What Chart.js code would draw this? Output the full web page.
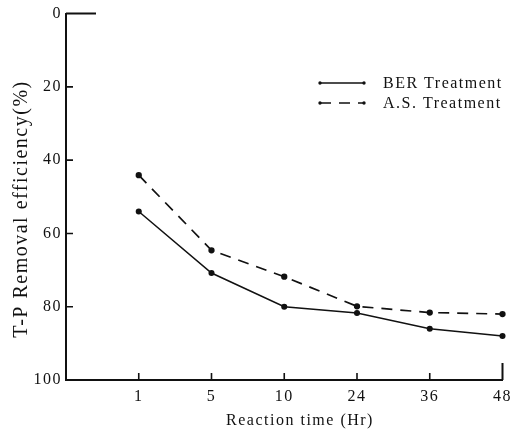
<!DOCTYPE html>
<html>
<head>
<meta charset="utf-8">
<script src="https://cdn.jsdelivr.net/npm/chart.js@4"></script>
<style>
  html, body { margin: 0; padding: 0; background: #fff; }
  #wrap { width: 519px; height: 430px; }
</style>
</head>
<body>
<div id="wrap"><canvas id="tpChart" width="519" height="430"></canvas></div>
<script>
// Reaction times (Hr); the leading blank slot sits on the y axis
const hours = ['1', '5', '10', '24', '36', '48'];
const berRemoval = [54, 70.8, 80, 81.7, 86, 88];
const asRemoval = [44.1, 64.6, 71.8, 79.9, 81.6, 82];
const yTicks = [0, 20, 40, 60, 80, 100];

const xTitle = 'Reaction time (Hr)';
const yTitle = 'T-P Removal efficiency(%)';

const serif = 'Liberation Serif, Times New Roman, serif';
const INK = '#111';

// wide text spacing, reapplied after every canvas resize
const spacing = {
    id: 'spacing',
    beforeLayout(chart) { chart.ctx.letterSpacing = '1.5px'; },
    beforeDraw(chart) { chart.ctx.letterSpacing = '1.5px'; }
};

// inward tick marks, the short top and right stubs, axis titles and the legend
const frame = {
    id: 'frame',
    afterDraw(chart) {
        const ctx = chart.ctx;
        const a = chart.chartArea;
        const x = chart.scales.x;
        const y = chart.scales.y;
        ctx.save();
        ctx.strokeStyle = INK;
        ctx.lineWidth = 1.6;
        ctx.beginPath();
        // y ticks point right into the plot
        yTicks.slice(1, -1).forEach(v => {
            const py = y.getPixelForValue(v);
            ctx.moveTo(a.left, py);
            ctx.lineTo(a.left + 7, py);
        });
        // x ticks point up into the plot
        hours.slice(0, -1).forEach((h, i) => {
            const px = x.getPixelForValue(i + 1);
            ctx.moveTo(px, a.bottom);
            ctx.lineTo(px, a.bottom - 7);
        });
        ctx.stroke();

        ctx.lineWidth = 2;
        ctx.beginPath();
        ctx.moveTo(a.left, a.top);
        ctx.lineTo(a.left + 30, a.top);
        ctx.moveTo(a.right, a.bottom);
        ctx.lineTo(a.right, a.bottom - 17);
        ctx.stroke();

        ctx.fillStyle = INK;
        ctx.textBaseline = 'middle';
        ctx.textAlign = 'center';

        // axis titles sit a little right of / below the plot centre
        ctx.font = '16px ' + serif;
        ctx.fillText(xTitle, 300, 421);
        ctx.save();
        ctx.translate(22, 209);
        ctx.rotate(-Math.PI / 2);
        ctx.font = '20px ' + serif;
        ctx.fillText(yTitle, 0, 0);
        ctx.restore();

        // legend
        ctx.font = '16px ' + serif;
        ctx.textAlign = 'left';
        chart.data.datasets.forEach((ds, i) => {
            const ly = 83 + i * 20;
            ctx.lineWidth = 1.6;
            ctx.setLineDash(ds.borderDash || []);
            ctx.beginPath();
            ctx.moveTo(320, ly);
            ctx.lineTo(364, ly);
            ctx.stroke();
            ctx.setLineDash([]);
            ctx.beginPath();
            ctx.arc(320, ly, 1.7, 0, Math.PI * 2);
            ctx.arc(364, ly, 1.7, 0, Math.PI * 2);
            ctx.fill();
            ctx.fillText(ds.label, 383, ly + 1);
        });
        ctx.restore();
    }
};

const ctx = document.getElementById('tpChart').getContext('2d');
const tpChart = new Chart(ctx, {
    type: 'line',
    data: {
        labels: [''].concat(hours),
        datasets: [{
            label: 'BER Treatment',
            data: [null].concat(berRemoval),
            borderColor: INK,
            backgroundColor: INK,
            borderWidth: 1.5,
            pointRadius: 2.3,
            pointHoverRadius: 2.3,
            tension: 0
        }, {
            label: 'A.S. Treatment',
            data: [null].concat(asRemoval),
            borderColor: INK,
            backgroundColor: INK,
            borderWidth: 1.7,
            borderDash: [11, 8],
            pointRadius: 2.3,
            pointHoverRadius: 2.3,
            tension: 0
        }]
    },
    options: {
        responsive: false,
        animation: false,
        events: [],
        layout: { padding: { left: 0, right: 6, top: 13, bottom: 0 } },
        plugins: {
            legend: { display: false },
            tooltip: { enabled: false }
        },
        scales: {
            x: {
                offset: false,
                grid: { display: false, drawTicks: false },
                border: { display: true, color: INK, width: 2 },
                ticks: {
                    color: INK,
                    font: { family: serif, size: 16 },
                    padding: 7,
                    autoSkip: false,
                    maxRotation: 0
                },
                afterFit(scale) { scale.height = 50; }
            },
            y: {
                reverse: true,
                min: 0,
                max: 100,
                afterBuildTicks(scale) { scale.ticks = yTicks.map(v => ({ value: v })); },
                grid: { display: false, drawTicks: false },
                border: { display: true, color: INK, width: 2 },
                ticks: {
                    color: INK,
                    font: { family: serif, size: 16 },
                    padding: 4
                },
                afterFit(scale) { scale.width = 66; }
            }
        }
    },
    plugins: [spacing, frame]
});
</script>
</body>
</html>
